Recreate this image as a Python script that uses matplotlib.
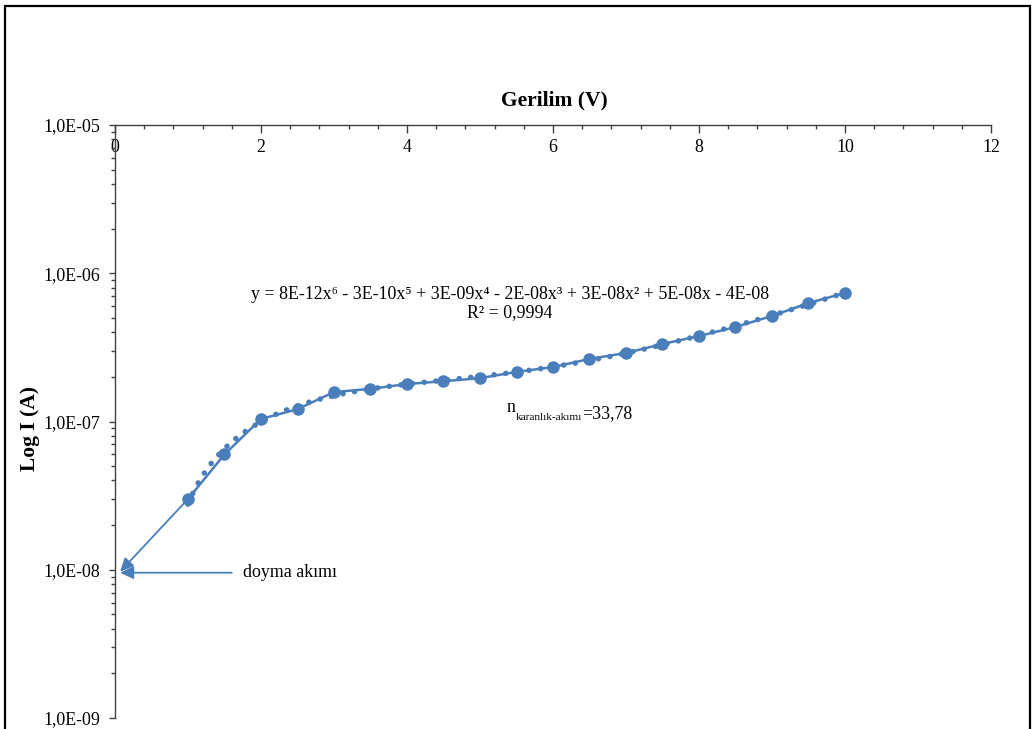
import numpy as np
import matplotlib
matplotlib.use("Agg")
import matplotlib.pyplot as plt
from matplotlib.ticker import FuncFormatter, LogLocator, MultipleLocator, NullFormatter
from matplotlib.patches import Rectangle

# Measured dark current vs. applied voltage
voltage = [1.0, 1.5, 2.0, 2.5, 3.0, 3.5, 4.0, 4.5, 5.0, 5.5,
           6.0, 6.5, 7.0, 7.5, 8.0, 8.5, 9.0, 9.5, 10.0]
current = [3.0e-8, 6.0e-8, 1.04e-7, 1.21e-7, 1.58e-7, 1.66e-7, 1.79e-7, 1.87e-7, 1.96e-7, 2.16e-7,
           2.33e-7, 2.64e-7, 2.90e-7, 3.33e-7, 3.77e-7, 4.34e-7, 5.15e-7, 6.30e-7, 7.36e-7]

x_ticks = [0, 2, 4, 6, 8, 10, 12]
equation = ("y = 8E-12x\u2076 - 3E-10x\u2075 + 3E-09x\u2074 - 2E-08x\u00b3 + 3E-08x\u00b2 + 5E-08x - 4E-08\n"
            "R\u00b2 = 0,9994")
ideality_value = "=33,78"

BLUE = "#4A7EBB"
SERIF = ["Liberation Serif", "DejaVu Serif"]
plt.rcParams["font.family"] = SERIF
FS = 12.9

W, H = 1033, 729
fig = plt.figure(figsize=(W / 100, H / 100), dpi=100)
ax = fig.add_axes([115 / W, 1 - 718 / H, (991 - 115) / W, (718 - 125) / H])

# Data series
ax.plot(voltage, current, color=BLUE, lw=1.8, marker="o", ms=8.0, mec=BLUE, mfc=BLUE, zorder=3)

# 6th-order polynomial trendline fitted to the data (rounded-dot style)
fit = np.polynomial.Polynomial.fit(voltage, current, 6)
xs = np.linspace(voltage[0], voltage[-1], 600)
trend, = ax.plot(xs, fit(xs), color=BLUE, lw=4.0, linestyle=(0, (0.01, 2.1)),
                 dash_capstyle="round", solid_capstyle="round", zorder=4)

ax.set_yscale("log")
ax.set_xlim(0, 12)
ax.set_ylim(1e-9, 1e-5)

# Axes styling: x axis drawn at the top, labels inside the plot area
for side in ("right", "bottom"):
    ax.spines[side].set_visible(False)
for side in ("left", "top"):
    ax.spines[side].set_color("#404040")
    ax.spines[side].set_linewidth(1.0)

ax.set_xticks(x_ticks)
ax.xaxis.set_minor_locator(MultipleLocator(0.4))
ax.xaxis.set_major_formatter(FuncFormatter(lambda v, p: f"{v:g}"))
ax.tick_params(axis="x", which="both", bottom=False, labelbottom=False, top=True, labeltop=True,
               direction="in", color="#404040", labelsize=FS, pad=-22.5)
ax.tick_params(axis="x", which="major", length=5.5, width=1.0)
ax.tick_params(axis="x", which="minor", length=3.0, width=1.0)

ax.yaxis.set_major_locator(LogLocator(base=10, numticks=10))
ax.yaxis.set_minor_locator(LogLocator(base=10, subs=np.arange(2, 10), numticks=20))
ax.yaxis.set_minor_formatter(NullFormatter())
ax.yaxis.set_major_formatter(FuncFormatter(
    lambda v, p: f"1,0E-{int(round(-np.log10(v))):02d}"))
ax.tick_params(axis="y", which="both", direction="out", color="#404040", labelsize=FS, pad=6.3)
ax.tick_params(axis="y", which="major", length=4.3, width=1.0)
ax.tick_params(axis="y", which="minor", length=3.2, width=1.0)

# Axis titles
ax.text(0.502, 1.0405, "Gerilim (V)", transform=ax.transAxes, ha="center", va="center",
        fontsize=15.5, fontweight="bold")
ax.text(-0.097, 0.489, "Log I (A)", transform=ax.transAxes, ha="center", va="center",
        rotation=90, fontsize=15.5, fontweight="bold")

# Trendline equation
ax.text(0.451, 0.699, equation, transform=ax.transAxes, ha="center", va="center",
        fontsize=FS, linespacing=1.05, multialignment="center")

# Ideality factor label with subscript
n_txt = ax.text(0.447, 0.516, "n", transform=ax.transAxes, ha="left", va="baseline", fontsize=FS)
sub_txt = ax.annotate("karanl\u0131k-ak\u0131m\u0131", xy=(1, 0), xycoords=n_txt,
                      xytext=(0, -3), textcoords="offset points",
                      ha="left", va="baseline", fontsize=8.2)
ax.annotate(ideality_value, xy=(1, 0), xycoords=sub_txt, xytext=(0, 3), textcoords="offset points",
            ha="left", va="baseline", fontsize=FS)

# Saturation current arrows
arrow_kw = dict(arrowstyle="-|>,head_length=0.8,head_width=0.38", color=BLUE, lw=1.3,
                shrinkA=0, shrinkB=0)
ax.annotate("", xy=(0.07, 9.7e-9), xytext=(voltage[0], current[0]), arrowprops=arrow_kw, zorder=2)
ax.annotate("", xy=(0.07, 9.55e-9), xytext=(1.6, 9.55e-9), arrowprops=arrow_kw, zorder=2)
ax.text(1.75, 9.55e-9, "doyma ak\u0131m\u0131", ha="left", va="center", fontsize=FS)

# Frame around the whole figure
fig.patches.append(Rectangle((5 / W, -0.05), (1030 - 5) / W, 1.05 - 5.5 / H,
                             transform=fig.transFigure, fill=False, lw=1.6, ec="black"))

fig.savefig("out.png", dpi=100, facecolor="white")
